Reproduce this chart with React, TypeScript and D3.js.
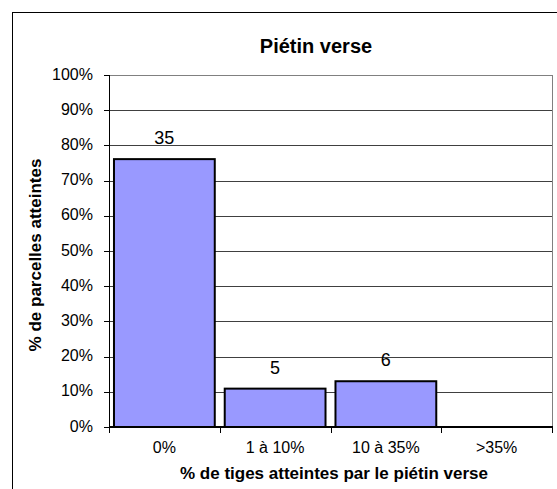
import React from "react";
import * as d3 from "d3";

const categories = ["0%", "1 à 10%", "10 à 35%", ">35%"];
const counts = [35, 5, 6, 0];
const percents = [76.1, 10.9, 13.0, 0];
const yTicks = [0, 10, 20, 30, 40, 50, 60, 70, 80, 90, 100];

const W = 557, H = 489;
const plot = { left: 109, right: 552, top: 75, bottom: 427 };

export default function App() {
  const x = d3.scaleBand<string>().domain(categories).range([plot.left, plot.right]).paddingInner(0.09).paddingOuter(0.045);
  const xb = d3.scaleBand<string>().domain(categories).range([plot.left, plot.right]);
  const y = d3.scaleLinear().domain([0, 100]).range([plot.bottom, plot.top]);
  const font = "Arial, 'Liberation Sans', sans-serif";
  return (
    <svg width={W} height={H} style={{ position: "absolute", left: 0, top: 0 }} fontFamily={font}>
      <rect x={0} y={0} width={W} height={H} fill="#fff" />
      <rect x={12.5} y={12.5} width={W + 10} height={H + 10} fill="none" stroke="#000" strokeWidth={1} />
      <text x={316} y={53} textAnchor="middle" fontSize={20} fontWeight="bold">Piétin verse</text>
      {yTicks.slice(1).map((t) => (
        <line key={t} x1={plot.left} x2={plot.right} y1={Math.round(y(t)) + 0.5} y2={Math.round(y(t)) + 0.5} stroke={t === 100 ? "#808080" : "#404040"} strokeWidth={1} />
      ))}
      <line x1={plot.right + 0.5} x2={plot.right + 0.5} y1={plot.top} y2={plot.bottom} stroke="#808080" strokeWidth={1} />
      {categories.map((c, i) => (
        percents[i] > 0 ? (
          <rect key={c} x={x(c)!} y={y(percents[i])} width={x.bandwidth()} height={y(0) - y(percents[i])} fill="#9999FF" stroke="#000" strokeWidth={2} />
        ) : null
      ))}
      {categories.map((c, i) => (
        counts[i] > 0 ? (
          <text key={c} x={x(c)! + x.bandwidth() / 2} y={y(percents[i]) - 15} textAnchor="middle" fontSize={18}>{counts[i]}</text>
        ) : null
      ))}
      <line x1={plot.left + 0.5} x2={plot.left + 0.5} y1={plot.top} y2={plot.bottom} stroke="#000" strokeWidth={1} />
      <line x1={plot.left} x2={plot.right + 1} y1={plot.bottom} y2={plot.bottom} stroke="#000" strokeWidth={2} />
      {yTicks.map((t) => (
        <g key={t}>
          <line x1={plot.left - 5} x2={plot.left} y1={Math.round(y(t)) + 0.5} y2={Math.round(y(t)) + 0.5} stroke="#000" />
          <text x={93} y={y(t) + 4.5} textAnchor="end" fontSize={16} fill="#000">{t}%</text>
        </g>
      ))}
      {[...categories.map((c) => xb(c)!), plot.right].map((v, i) => (
        <line key={i} x1={Math.round(v) + 0.5} x2={Math.round(v) + 0.5} y1={plot.bottom} y2={plot.bottom + 6} stroke="#000" />
      ))}
      {categories.map((c) => (
        <text key={c} x={xb(c)! + xb.bandwidth() / 2} y={453} textAnchor="middle" fontSize={16}>{c}</text>
      ))}
      <text x={334} y={479} textAnchor="middle" fontSize={17} fontWeight="bold">% de tiges atteintes par le piétin verse</text>
      <text transform={`translate(41,255) rotate(-90)`} textAnchor="middle" fontSize={17} fontWeight="bold">% de parcelles atteintes</text>
    </svg>
  );
}
